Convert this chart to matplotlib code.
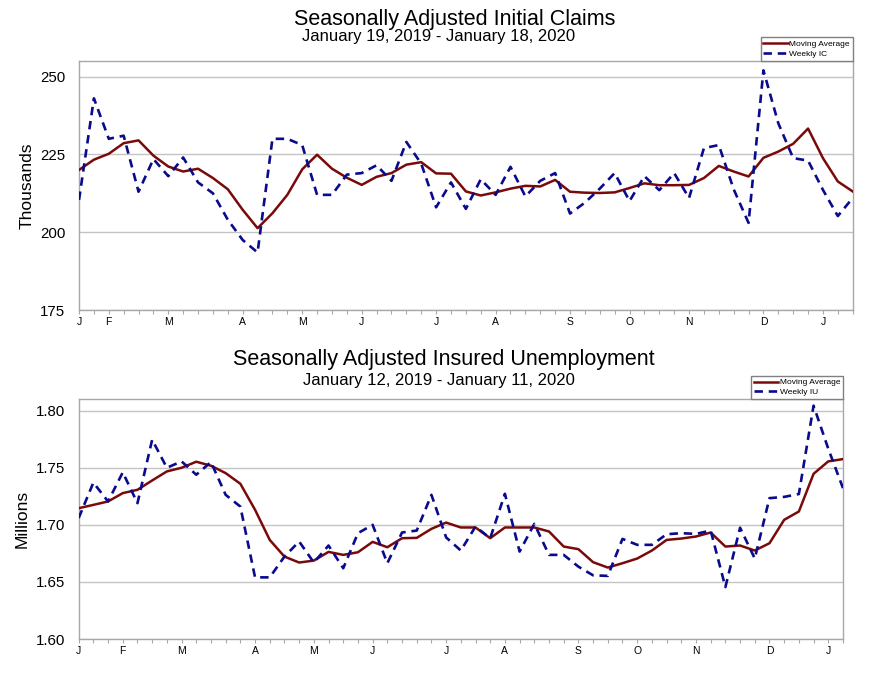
import matplotlib
matplotlib.use("Agg")
import matplotlib.pyplot as plt
import pandas as pd

plt.rcParams['font.family'] = ['Liberation Sans', 'DejaVu Sans']

# ---------------- data ----------------
ic_start = "2019-01-19"
ic_weekly = [210.4, 243.0, 230.0, 231.0, 213.0, 223.5, 218.0, 224.0, 216.0, 212.5,
             204.0, 197.5, 193.5, 230.0, 230.0, 228.0, 212.0, 212.0, 218.5, 219.0,
             221.5, 216.5, 229.0, 222.0, 208.0, 216.0, 207.5, 217.0, 212.0, 221.0,
             211.5, 216.5, 219.0, 206.0, 209.5, 214.0, 219.0, 210.0, 218.0, 213.5,
             219.0, 211.0, 227.0, 228.0, 213.8, 203.0, 252.0, 235.0, 223.8, 223.0,
             213.6, 205.2, 211.0]
ic_ma = [220.0, 223.3, 225.2, 228.6, 229.5, 224.6, 221.1, 219.5, 220.4, 217.4,
         213.8, 207.2, 201.3, 206.1, 212.0, 220.2, 224.9, 220.4, 217.5, 215.2,
         217.8, 219.0, 221.7, 222.5, 218.9, 218.8, 213.1, 211.8, 212.8, 214.0,
         214.9, 214.7, 216.8, 213.0, 212.7, 212.6, 212.8, 214.2, 215.7, 215.1,
         215.1, 215.2, 217.4, 221.3, 219.5, 217.9, 223.9, 225.9, 228.4, 233.3,
         223.8, 216.3, 213.1]

iu_start = "2019-01-12"
iu_weekly = [1.706, 1.737, 1.7205, 1.746, 1.719, 1.7746, 1.750, 1.7556, 1.7439, 1.755,
             1.7263, 1.716, 1.654, 1.654, 1.6722, 1.6854, 1.667, 1.6819, 1.662, 1.6927,
             1.700, 1.6664, 1.6933, 1.695, 1.7263, 1.689, 1.6775, 1.6985, 1.6883, 1.7272,
             1.6766, 1.7009, 1.6737, 1.6737, 1.6634, 1.6558, 1.6553, 1.6877, 1.6825, 1.6825,
             1.6918, 1.6927, 1.6921, 1.695, 1.6455, 1.6975, 1.6705, 1.7234, 1.7245, 1.7270,
             1.8044, 1.7667, 1.7322]
iu_ma = [1.7146, 1.7175, 1.7205, 1.7278, 1.7307, 1.7389, 1.7468, 1.750, 1.7553, 1.7518,
         1.7453, 1.736, 1.7132, 1.6868, 1.6722, 1.667, 1.6687, 1.6763, 1.6737, 1.676,
         1.6851, 1.6804, 1.6883, 1.6886, 1.6965, 1.702, 1.6977, 1.6977, 1.6883, 1.6977,
         1.6977, 1.6977, 1.6942, 1.681, 1.6787, 1.6673, 1.6626, 1.6664, 1.6705, 1.6775,
         1.6868, 1.688, 1.6898, 1.6933, 1.681, 1.6819, 1.6775, 1.6839, 1.7044, 1.7117,
         1.7447, 1.7556, 1.7576]

month_letters = ["J", "F", "M", "A", "M", "J", "J", "A", "S", "O", "N", "D"]

ic_title = "Seasonally Adjusted Initial Claims"
ic_sub = "January 19, 2019 - January 18, 2020"
iu_title = "Seasonally Adjusted Insured Unemployment"
iu_sub = "January 12, 2019 - January 11, 2020"

MA_COLOR = "#7a0a0a"
WK_COLOR = "#0a0a8c"
GRID = "#c4c4c4"
SPINE = "#a8a8a8"


def month_ticks(dates):
    pos, lab = [], []
    for i, d in enumerate(dates):
        if i == 0 or d.day <= 7:
            pos.append(i)
            lab.append(month_letters[d.month - 1])
    return pos, lab


def draw(ax, start, weekly, ma, ylim, yticks, yfmt, ylabel, wk_label):
    dates = pd.date_range(start, periods=len(weekly), freq="7D")
    x = list(range(len(weekly)))
    ax.plot(x, ma, color=MA_COLOR, lw=1.8, label="Moving Average", zorder=3)
    ln, = ax.plot(x, weekly, color=WK_COLOR, lw=1.9, label=wk_label, zorder=4)
    ln.set_dashes((3.2, 2.2))
    ax.set_xlim(0, len(weekly) - 1)
    ax.set_ylim(*ylim)
    ax.set_yticks(yticks)
    ax.set_yticklabels([yfmt.format(v) for v in yticks])
    ax.yaxis.grid(True, color=GRID, lw=1.0)
    ax.set_axisbelow(True)
    pos, lab = month_ticks(dates)
    ax.set_xticks(pos)
    ax.set_xticklabels(lab)
    ax.set_xticks(x, minor=True)
    ax.tick_params(axis="x", which="both", length=3, width=0.8, color=SPINE,
                   labelsize=7.5, pad=2)
    ax.tick_params(axis="y", length=0, labelsize=10.8, pad=10)
    for s in ax.spines.values():
        s.set_color(SPINE)
        s.set_linewidth(1.0)
    ax.set_ylabel(ylabel, fontsize=12.5, labelpad=4)
    leg = ax.legend(loc="lower right", bbox_to_anchor=(1.0, 1.0), borderaxespad=0,
                    fontsize=6, frameon=True, fancybox=False, framealpha=1,
                    edgecolor="#808080", handlelength=2.9, handletextpad=0.2,
                    borderpad=0.35, labelspacing=0.25)
    leg.get_frame().set_linewidth(1.0)


fig = plt.figure(figsize=(8.85, 6.74), dpi=100)

ax1 = fig.add_axes([0.0893, 0.540, 0.8742, 0.3695])
draw(ax1, ic_start, ic_weekly, ic_ma, (175, 255), [175, 200, 225, 250], "{:.0f}",
     "Thousands", "Weekly IC")

ax2 = fig.add_axes([0.0889, 0.0519, 0.8636, 0.3557])
draw(ax2, iu_start, iu_weekly, iu_ma, (1.60, 1.81), [1.60, 1.65, 1.70, 1.75, 1.80], "{:.2f}",
     "Millions", "Weekly IU")

fig.text(455 / 885, 1 - 25 / 674, ic_title, ha="center", va="baseline", fontsize=15.5)
fig.text(438.5 / 885, 1 - 41.5 / 674, ic_sub, ha="center", va="baseline", fontsize=12)
fig.text(443.5 / 885, 1 - 365 / 674, iu_title, ha="center", va="baseline", fontsize=15.5)
fig.text(439 / 885, 1 - 384.5 / 674, iu_sub, ha="center", va="baseline", fontsize=12)

fig.savefig("out.png", dpi=100)
